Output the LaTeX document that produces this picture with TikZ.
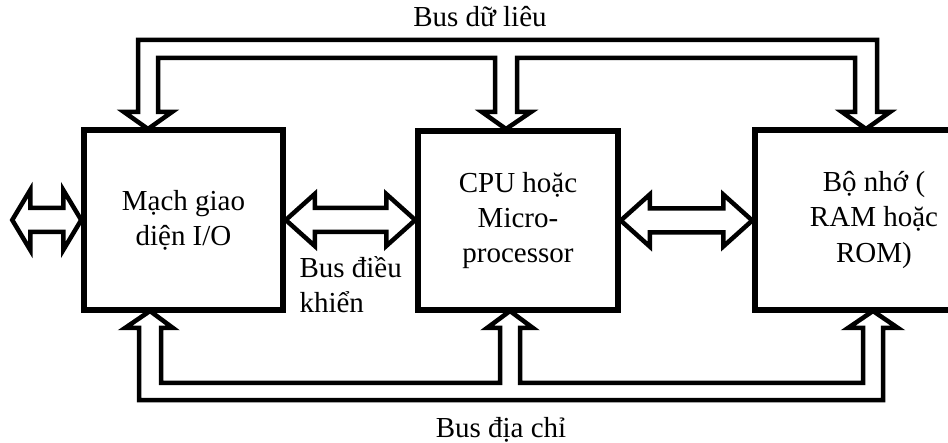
\documentclass[tikz,border=0pt]{standalone}
\usepackage{fontspec}
\setmainfont{Liberation Serif}
\usetikzlibrary{calc}

% 横向きの太い両矢印 (始点, 長さ, 矢じりの長さ, 矢じりの半幅)
\newcommand{\hbus}[4]{%
  \draw[bus] #1 -- ++(#3,#4) -- ++(0,12-#4) -- ++(#2-2*#3,0) -- ++(0,#4-12) -- ++(#3,-#4)
    -- ++(-#3,-#4) -- ++(0,#4-12) -- ++(2*#3-#2,0) -- ++(0,12-#4) -- cycle;}

\begin{document}
\begin{tikzpicture}[x=1pt, y=1pt, font=\fontsize{29}{35}\selectfont,
    khoi/.style={rectangle, draw, line width=5.5pt, align=center},
    bus/.style={draw, line width=4.5pt}]
    \useasboundingbox (0,0) rectangle (948,442);
    \clip (0,0) rectangle (948,442);

    % ブロック
    \node[khoi, minimum width=199pt, minimum height=180pt] (io) at (183.5, 222) {Mạch giao\\diện I/O};
    \node[khoi, minimum width=200pt, minimum height=179pt] (cpu) at (518, 221.5) {CPU hoặc\\Micro-\\processor};
    \node[khoi, minimum width=238pt, minimum height=180pt] (mem) at (874, 222) {Bộ nhớ (\\RAM hoặc\\ROM)};

    % 左右の両矢印
    \hbus{($(io.west)+(-69,0)$)}{69}{18}{30}
    \hbus{(io.east)}{129.5}{29}{26}
    \hbus{(cpu.east)}{131.5}{29}{26}

    % bus dữ liệu (上)
    \draw[bus] (148,313) -- (172,330) -- (158,330) -- (158,384) -- (495,384) -- (495,330)
        -- (482,330) -- (506,313) -- (531,330) -- (517,330) -- (517,384) -- (855,384)
        -- (855,330) -- (842,330) -- (866,313) -- (890,330) -- (877,330) -- (877,402)
        -- (138,402) -- (138,330) -- (124,330) -- cycle;

    % bus địa chỉ (下)
    \draw[bus] (150,131) -- (173,114) -- (161,114) -- (161,59) -- (500,59) -- (500,114)
        -- (487,114) -- (510,131) -- (533,114) -- (520,114) -- (520,59) -- (863,59)
        -- (863,114) -- (848,114) -- (873,131) -- (898,114) -- (883,114) -- (883,42)
        -- (139,42) -- (139,114) -- (125,114) -- cycle;

    % ラベル
    \node[anchor=base] (dl) at (480, 415) {Bus dữ liêu};
    \node[anchor=west, align=left] (dk) at (296, 157) {Bus điều\\khiển};
    \node[anchor=base] (dc) at (501, 5) {Bus địa chỉ};
\end{tikzpicture}
\end{document}
